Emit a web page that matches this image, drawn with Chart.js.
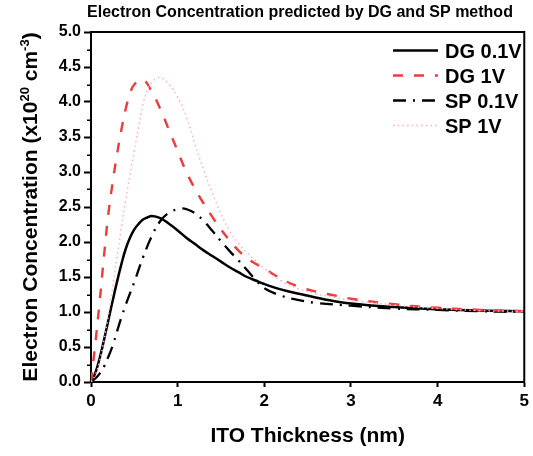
<!DOCTYPE html>
<html>
<head>
<meta charset="utf-8">
<script src="https://cdn.jsdelivr.net/npm/chart.js@4/dist/chart.umd.min.js"></script>
<style>
  html, body { margin: 0; padding: 0; background: #ffffff; }
  canvas { display: block; }
</style>
</head>
<body>
<canvas id="chart" width="533" height="456"></canvas>
<script>
// ITO thickness (nm) and electron concentration (x10^20 cm^-3) for each model
const dg01X = [0,0.05,0.1,0.15,0.2,0.25,0.3,0.35,0.4,0.45,0.5,0.55,0.6,0.65,0.7,0.8,0.9,1.0,1.1,1.2,1.3,1.4,1.5,1.6,1.7,1.8,1.9,2.0,2.2,2.4,2.7,3.0,3.5,4.0,4.5,5.0];
const dg01Y = [0,0.13,0.34,0.6,0.88,1.16,1.43,1.68,1.9,2.06,2.18,2.26,2.32,2.35,2.37,2.34,2.26,2.165,2.06,1.97,1.88,1.8,1.72,1.64,1.57,1.5,1.45,1.4,1.32,1.26,1.18,1.12,1.07,1.04,1.02,1.01];

const dg1X = [0,0.05,0.1,0.15,0.2,0.25,0.3,0.35,0.4,0.45,0.5,0.6,0.7,0.8,0.9,1.0,1.1,1.2,1.3,1.4,1.5,1.6,1.7,1.8,1.9,2.0,2.2,2.4,2.6,2.8,3.0,3.5,4.0,4.5,5.0];
const dg1Y = [0,0.55,1.15,1.8,2.4,2.85,3.25,3.6,3.9,4.12,4.25,4.32,4.15,3.9,3.6,3.3,3.0,2.76,2.55,2.36,2.18,2.02,1.88,1.77,1.69,1.62,1.47,1.36,1.29,1.24,1.19,1.11,1.06,1.03,1.01];

const sp01X = [0,0.05,0.1,0.15,0.2,0.25,0.3,0.35,0.4,0.5,0.6,0.7,0.8,0.9,1.0,1.05,1.1,1.2,1.3,1.4,1.5,1.6,1.7,1.8,1.9,2.0,2.2,2.4,2.6,3.0,3.5,4.0,4.5,5.0];
const sp01Y = [0,0.05,0.12,0.22,0.36,0.52,0.72,0.92,1.1,1.43,1.78,2.08,2.3,2.42,2.47,2.48,2.47,2.41,2.3,2.16,2.01,1.87,1.74,1.6,1.46,1.34,1.23,1.17,1.13,1.09,1.05,1.03,1.01,1.0];

const sp1X = [0,0.05,0.1,0.15,0.2,0.25,0.3,0.35,0.4,0.45,0.5,0.55,0.6,0.65,0.7,0.8,0.9,1.0,1.1,1.2,1.3,1.4,1.5,1.6,1.7,1.8,2.0,2.2,2.4,2.6,2.8,3.0,3.5,4.0,4.5,5.0];
const sp1Y = [0,0.1,0.3,0.6,0.95,1.35,1.78,2.2,2.6,2.95,3.3,3.65,3.97,4.17,4.28,4.35,4.25,4.07,3.79,3.4,3.03,2.7,2.4,2.16,1.98,1.85,1.62,1.44,1.33,1.26,1.21,1.17,1.1,1.05,1.02,1.01];

const seriesNames = ['DG 0.1V', 'DG 1V', 'SP 0.1V', 'SP 1V'];
const xTicks = [0, 1, 2, 3, 4, 5];
const yTicks = [0, 0.5, 1, 1.5, 2, 2.5, 3, 3.5, 4, 4.5, 5];
const yMinorTicks = [0.25, 0.75, 1.25, 1.75, 2.25, 2.75, 3.25, 3.75, 4.25, 4.75];

const FONT = '"Liberation Sans", Arial, Helvetica, sans-serif';
const pairs = (xs, ys) => xs.map((x, i) => ({ x: x, y: ys[i] }));

const styles = [
  { color: '#000000', width: 2.5, dash: [] },
  { color: '#ee3b3b', width: 2.4, dash: [10, 11] },
  { color: '#000000', width: 2.3, dash: [13, 7, 2, 7] },
  { color: '#ffb0c4', width: 1.5, dash: [1.5, 3.2] }
];
const dataSets = [pairs(dg01X, dg01Y), pairs(dg1X, dg1Y), pairs(sp01X, sp01Y), pairs(sp1X, sp1Y)];

// draw order: pink first so the darker curves sit on top
const order = [3, 1, 0, 2];
const datasets = order.map(i => ({
  label: seriesNames[i],
  data: dataSets[i],
  borderColor: styles[i].color,
  borderWidth: styles[i].width,
  borderDash: styles[i].dash,
  borderCapStyle: 'butt',
  pointRadius: 0,
  fill: false,
  tension: 0.4
}));

const decorations = {
  id: 'decorations',
  afterDraw(chart) {
    const ctx = chart.ctx;
    const a = chart.chartArea;
    const ys = chart.scales.y;
    ctx.save();

    // frame: top and right edges
    ctx.strokeStyle = '#000';
    ctx.lineWidth = 2;
    ctx.beginPath();
    ctx.moveTo(a.left - 1, a.top);
    ctx.lineTo(a.right, a.top);
    ctx.lineTo(a.right, a.bottom + 1);
    ctx.stroke();

    // minor ticks on the y axis
    ctx.lineWidth = 1.5;
    ctx.beginPath();
    yMinorTicks.forEach(v => {
      const py = Math.round(ys.getPixelForValue(v)) + 0.25;
      ctx.moveTo(a.left, py);
      ctx.lineTo(a.left - 4, py);
    });
    ctx.stroke();

    // title
    ctx.fillStyle = '#000';
    ctx.font = 'bold 16px ' + FONT;
    ctx.textAlign = 'center';
    ctx.textBaseline = 'alphabetic';
    ctx.fillText('Electron Concentration predicted by DG and SP method', 300, 17);

    // x axis title
    ctx.font = 'bold 21px ' + FONT;
    ctx.fillText('ITO Thickness (nm)', (a.left + a.right) / 2, 442);

    // y axis title with superscripts
    const parts = [
      { t: 'Electron Concentration (x10', sup: false },
      { t: '20', sup: true },
      { t: ' cm', sup: false },
      { t: '-3', sup: true },
      { t: ')', sup: false }
    ];
    const mainFont = 'bold 21px ' + FONT;
    const supFont = 'bold 13px ' + FONT;
    let total = 0;
    parts.forEach(p => { ctx.font = p.sup ? supFont : mainFont; p.w = ctx.measureText(p.t).width; total += p.w; });
    ctx.translate(37, (a.top + a.bottom) / 2);
    ctx.rotate(-Math.PI / 2);
    ctx.textAlign = 'left';
    let cx = -total / 2;
    parts.forEach(p => {
      ctx.font = p.sup ? supFont : mainFont;
      ctx.fillText(p.t, cx, p.sup ? -8 : 0);
      cx += p.w;
    });
    ctx.setTransform(1, 0, 0, 1, 0, 0);

    // legend
    const rows = [0, 1, 2, 3];
    rows.forEach((i, r) => {
      const base = 58 + r * 25;
      const ly = base - 7.5;
      ctx.strokeStyle = styles[i].color;
      ctx.lineWidth = styles[i].width;
      ctx.setLineDash(styles[i].dash);
      ctx.lineCap = 'butt';
      ctx.beginPath();
      ctx.moveTo(393, ly);
      ctx.lineTo(438, ly);
      ctx.stroke();
      ctx.setLineDash([]);
      ctx.fillStyle = '#000';
      ctx.font = 'bold 20px ' + FONT;
      ctx.textAlign = 'left';
      ctx.fillText(seriesNames[i], 445, base);
    });

    ctx.restore();
  }
};

new Chart(document.getElementById('chart'), {
  type: 'line',
  data: { datasets: datasets },
  options: {
    responsive: false,
    devicePixelRatio: 1,
    animation: false,
    events: [],
    layout: { padding: { left: 0, right: 7, top: 32, bottom: 0 } },
    plugins: {
      legend: { display: false },
      title: { display: false },
      tooltip: { enabled: false }
    },
    scales: {
      x: {
        type: 'linear',
        min: 0,
        max: 5,
        afterFit(scale) { scale.height = 74; },
        afterBuildTicks(scale) { scale.ticks = xTicks.map(v => ({ value: v })); },
        grid: { drawOnChartArea: false, drawTicks: true, tickLength: 5, tickWidth: 2, tickColor: '#000' },
        border: { display: true, color: '#000', width: 2 },
        ticks: {
          color: '#000',
          font: { family: FONT, size: 17, weight: 'bold' },
          padding: 4,
          maxRotation: 0,
          callback: v => String(v)
        }
      },
      y: {
        type: 'linear',
        min: 0,
        max: 5,
        afterFit(scale) { scale.width = 91; },
        afterBuildTicks(scale) { scale.ticks = yTicks.map(v => ({ value: v })); },
        grid: { drawOnChartArea: false, drawTicks: true, tickLength: 7, tickWidth: 2, tickColor: '#000' },
        border: { display: true, color: '#000', width: 2 },
        ticks: {
          color: '#000',
          font: { family: FONT, size: 16, weight: 'bold' },
          padding: 3,
          callback: v => Number(v).toFixed(1)
        }
      }
    }
  },
  plugins: [decorations]
});
</script>
</body>
</html>
